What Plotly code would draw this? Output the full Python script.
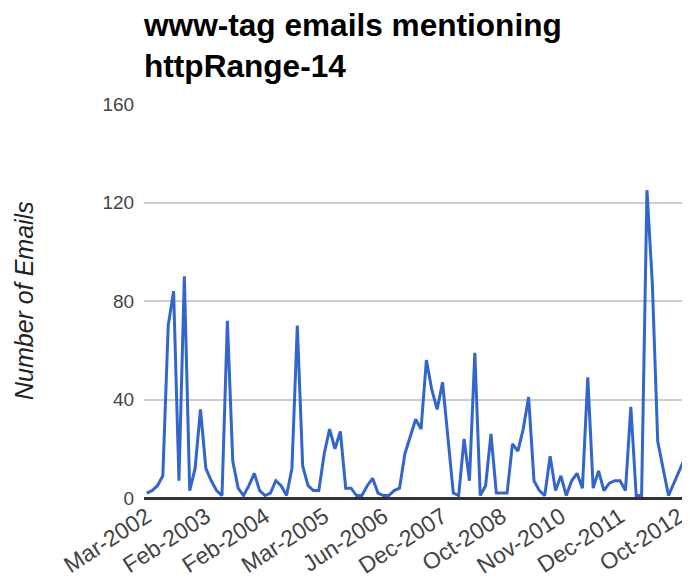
import plotly.graph_objects as go

# Monthly counts of www-tag emails mentioning httpRange-14
emails = [2, 3, 5, 9, 70, 84, 7, 90, 3, 12,
          36, 12, 7, 3, 1, 72, 15, 4, 1, 5,
          10, 3, 1, 2, 7, 5, 1, 12, 70, 13,
          5, 3, 3, 18, 28, 20, 27, 4, 4, 1,
          1, 5, 8, 2, 1, 1, 3, 4, 18, 25,
          32, 28, 56, 44, 36, 47, 24, 2, 1, 24,
          7, 59, 1, 5, 26, 2, 2, 2, 22, 19,
          28, 41, 7, 3, 1, 17, 3, 9, 1, 7,
          10, 4, 49, 4, 11, 3, 6, 7, 7, 3,
          37, 1, 1, 125, 87, 23, 12, 1, 6, 11,
          16, 4]

# Category labels shown on the x axis (every 11th category)
tick_labels = ["Mar-2002", "Feb-2003", "Feb-2004", "Mar-2005", "Jun-2006",
               "Dec-2007", "Oct-2008", "Nov-2010", "Dec-2011", "Oct-2012"]
label_step = 11

y_ticks = [0, 40, 80, 120, 160]

idx = list(range(len(emails)))
tick_pos = idx[::label_step][:len(tick_labels)]

FONT = "Liberation Sans, Arial, sans-serif"
# the page body adds an 8px offset, so the figure is 8px smaller on each axis
W, H = 682, 580
ML, MR, MT, MB = 136, 0, 96, 90
PW, PH = W - ML - MR, H - MT - MB

fig = go.Figure()
fig.add_trace(go.Scatter(
    x=idx, y=emails, mode="lines",
    line=dict(color="#3366cc", width=3),
    hoverinfo="skip", showlegend=False,
))

fig.update_layout(
    width=W, height=H,
    margin=dict(l=ML, r=MR, t=MT, b=MB, autoexpand=False),
    paper_bgcolor="white", plot_bgcolor="white",
    font=dict(family=FONT, color="#444444"),
    xaxis=dict(
        range=[-0.5, len(emails) - 1],
        tickmode="array", tickvals=tick_pos, ticktext=tick_labels,
        tickangle=-33, tickfont=dict(size=23, color="#444444"),
        showgrid=False, zeroline=False, showline=False,
        ticks="", ticklabelstandoff=0,
        ticklabeloverflow="allow",
        automargin=False,
    ),
    yaxis=dict(
        range=[0, 160],
        tickmode="array", tickvals=y_ticks,
        tickfont=dict(size=19, color="#444444"),
        showgrid=True, gridcolor="#cccccc", gridwidth=2,
        zeroline=True, zerolinecolor="#333333", zerolinewidth=3,
        showline=False,
        ticks="outside", ticklen=5, tickcolor="rgba(0,0,0,0)",
        automargin=False,
    ),
    annotations=[
        dict(
            text="<b>www-tag emails mentioning<br>httpRange-14</b>",
            xref="paper", yref="paper",
            x=-0.006, y=1 + (MT + 3) / PH,
            xanchor="left", yanchor="top", align="left",
            showarrow=False,
            font=dict(family=FONT, size=31.6, color="#000000"),
        ),
        dict(
            text="<i>Number of Emails</i>",
            xref="paper", yref="paper",
            x=(16 - ML) / PW, y=0.5,
            xanchor="center", yanchor="middle",
            textangle=-90, showarrow=False,
            font=dict(family=FONT, size=25, color="#222222"),
        ),
    ],
)

fig.write_html("out.html")
